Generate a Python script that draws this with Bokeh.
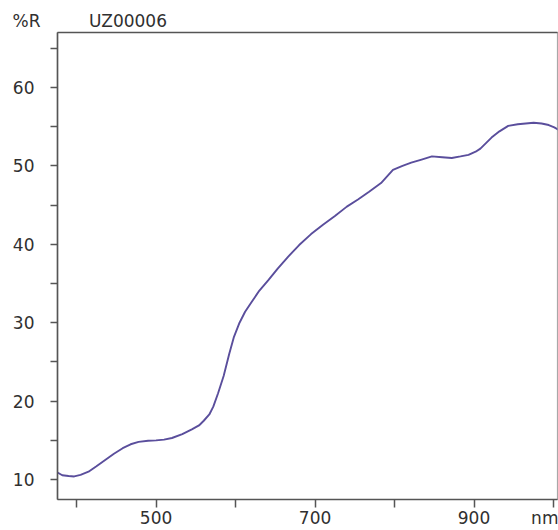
from bokeh.plotting import figure
from bokeh.models import FixedTicker, Range1d, LinearAxis
from bokeh.embed import file_html
from bokeh.resources import INLINE

wavelength = [376, 382, 390, 397, 405, 415, 425, 436, 447, 458, 468, 478, 490, 500,
              510, 520, 533, 545, 554, 560, 567, 572, 578, 585, 592, 598, 605, 612,
              620, 630, 641, 653, 666, 680, 695, 710, 725, 740, 754, 768, 783, 798,
              810, 821, 834, 847, 860, 872, 883, 893, 902, 908, 915, 922, 932, 943,
              955, 965, 975, 985, 994, 1001, 1006]
reflectance = [10.9, 10.55, 10.45, 10.4, 10.6, 11.0, 11.7, 12.5, 13.3, 14.0, 14.5, 14.8,
               14.95, 15.0, 15.1, 15.3, 15.8, 16.4, 16.9, 17.5, 18.3, 19.3, 21.0, 23.2,
               26.0, 28.2, 30.0, 31.4, 32.6, 34.1, 35.4, 36.9, 38.4, 39.9, 41.3, 42.5,
               43.6, 44.8, 45.7, 46.7, 47.8, 49.5, 50.0, 50.4, 50.8, 51.2, 51.1, 51.0,
               51.2, 51.4, 51.8, 52.2, 52.9, 53.6, 54.4, 55.1, 55.3, 55.4, 55.5, 55.4,
               55.2, 54.9, 54.6]

x_labels = {500: "500", 700: "700", 900: "900", 989: "nm"}
x_tick_marks = [400, 500, 600, 700, 800, 900, 1000]
y_major = [10, 20, 30, 40, 50, 60]
y_minor = [15, 25, 35, 45, 55, 65]
title_left = "%R"
title_right = "UZ00006"

FONT = "DejaVu Sans"
TXT = "#303030"
AX = "#555555"

p = figure(width=558, height=530, output_backend="svg", toolbar_location=None,
           x_range=Range1d(376, 1005), y_range=Range1d(7.46, 67.0),
           min_border_left=57, min_border_right=1, min_border_top=32, min_border_bottom=30,
           background_fill_color="white", border_fill_color="white")
p.grid.visible = False
p.outline_line_color = "#a8a8a8"
p.outline_line_width = 1.2

p.title.text = title_left + "\u00a0" * 9 + title_right
p.title.align = "left"
p.title.offset = -45
p.title.standoff = 4
p.title.text_font = FONT
p.title.text_font_size = "17px"
p.title.text_font_style = "normal"
p.title.text_color = TXT

p.line(wavelength, reflectance, line_color="#5a4e9c", line_width=1.9)

xa = p.xaxis[0]
xa.ticker = FixedTicker(ticks=list(x_labels.keys()), minor_ticks=x_tick_marks)
xa.major_label_overrides = x_labels
xa.axis_line_color = AX
xa.axis_line_width = 1.6
xa.major_tick_line_color = None
xa.major_tick_in = 0
xa.major_tick_out = 0
xa.minor_tick_line_color = AX
xa.minor_tick_line_width = 1.5
xa.minor_tick_in = 0
xa.minor_tick_out = 8
xa.major_label_standoff = 0
xa.major_label_text_font = FONT
xa.major_label_text_font_size = "17px"
xa.major_label_text_color = TXT

ya = p.yaxis[0]
ya.ticker = FixedTicker(ticks=y_major, minor_ticks=y_minor)
ya.axis_line_color = AX
ya.axis_line_width = 1.6
ya.major_tick_line_color = AX
ya.minor_tick_line_color = AX
ya.major_tick_line_width = 1.5
ya.minor_tick_line_width = 1.5
ya.major_tick_in = 0
ya.major_tick_out = 7
ya.minor_tick_in = 0
ya.minor_tick_out = 7
ya.major_label_standoff = 16
ya.major_label_text_font = FONT
ya.major_label_text_font_size = "17px"
ya.major_label_text_color = TXT

top = LinearAxis(ticker=FixedTicker(ticks=[]), axis_line_color=AX, axis_line_width=1.6,
                 major_tick_out=0, minor_tick_out=0, major_label_standoff=0,
                 major_label_text_font_size="0px")
p.add_layout(top, "above")

open("out.html", "w").write(file_html(p, INLINE))
